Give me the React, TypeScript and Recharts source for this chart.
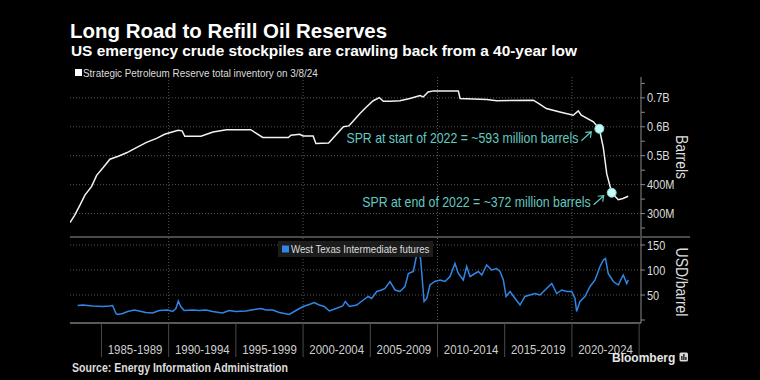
import React from "react"
import { LineChart, Line, XAxis, YAxis, ReferenceLine, ReferenceDot } from "recharts"

// SPR inventory, millions of barrels
const sprYears = [
  1982.66, 1983.0, 1983.4, 1983.77, 1984.27, 1984.64, 1985.13, 1985.63, 1986.25, 1986.87,
  1987.6, 1988.35, 1989.1, 1989.7, 1990.2, 1990.7, 1991.0, 1991.2, 1992.4, 1993.3,
  1994.3, 1996.1, 1997.0, 1998.9, 1999.1, 1999.75, 2000.0, 2000.75, 2000.95, 2001.9,
  2003.0, 2003.4, 2003.6, 2004.23, 2004.73, 2005.22, 2005.67, 2005.97, 2006.47, 2007.2,
  2007.95, 2008.7, 2008.94, 2009.3, 2009.7, 2011.55, 2011.68, 2013.66, 2014.4, 2017.13,
  2017.6, 2018.1, 2019.1, 2020.1, 2020.47, 2020.7, 2021.6, 2022.04, 2022.33, 2022.59,
  2022.96, 2023.45, 2023.8, 2024.19,
]
const sprBarrels = [
  269, 294, 329, 364, 394, 432, 459, 488, 498, 510,
  528, 546, 560, 574, 581, 588, 586, 567, 567, 582,
  590, 590, 563, 563, 571, 574, 568, 568, 542, 544,
  600, 603, 613, 646, 669, 690, 701, 688, 688, 690,
  698, 708, 703, 720, 724, 724, 698, 694, 690, 692,
  678, 663, 651, 640, 655, 640, 617, 593, 530, 438,
  372, 348, 352, 360,
]

// WTI futures, USD per barrel
const wtiYears = [
  1983.23, 1983.6, 1984.35, 1985.1, 1985.6, 1985.83, 1986.08, 1986.2, 1986.58, 1986.95,
  1987.44, 1987.8, 1988.3, 1988.8, 1989.3, 1989.93, 1990.3, 1990.54, 1990.72, 1990.9,
  1991.15, 1991.8, 1992.28, 1992.78, 1993.27, 1994.0, 1994.5, 1995.0, 1995.75, 1996.37,
  1996.87, 1997.24, 1997.74, 1998.23, 1998.97, 1999.47, 2000.0, 2000.46, 2000.83, 2001.2,
  2001.58, 2001.95, 2002.45, 2002.95, 2003.14, 2003.44, 2003.99, 2004.48, 2004.85, 2005.1,
  2005.48, 2005.85, 2006.09, 2006.47, 2006.84, 2007.2, 2007.58, 2007.83, 2008.2, 2008.45,
  2008.57, 2008.75, 2009.0, 2009.2, 2009.44, 2009.8, 2010.19, 2010.56, 2010.93, 2011.3,
  2011.55, 2011.92, 2012.17, 2012.42, 2012.79, 2013.04, 2013.29, 2013.66, 2014.03, 2014.4,
  2014.65, 2014.9, 2015.1, 2015.4, 2015.77, 2016.14, 2016.5, 2016.88, 2017.25, 2017.63,
  2018.0, 2018.5, 2018.87, 2019.24, 2019.61, 2019.99, 2020.23, 2020.35, 2020.6, 2020.97,
  2021.35, 2021.72, 2022.09, 2022.34, 2022.5, 2022.7, 2023.08, 2023.45, 2023.82, 2024.08,
  2024.19,
]
const wtiPrices = [
  29, 30, 28, 27, 28, 29, 13, 11, 13, 17,
  20, 18, 15, 14, 19, 20, 17, 23, 38, 27,
  19, 20, 19, 20, 17, 14, 19, 17, 18, 21,
  23, 20, 20, 15, 11, 19, 27, 31, 35, 30,
  27, 18, 23, 28, 37, 27, 30, 40, 47, 43,
  57, 60, 63, 77, 60, 57, 67, 93, 97, 130,
  143, 120, 37, 43, 70, 77, 80, 77, 87, 113,
  93, 80, 107, 87, 93, 97, 90, 110, 100, 103,
  97, 80, 47, 57, 43, 30, 47, 50, 53, 50,
  60, 73, 53, 60, 57, 57, 43, 17, 37, 47,
  67, 80, 107, 120, 123, 93, 77, 70, 90, 73,
  80,
]

const decadeLines = [1990, 2000, 2010, 2020]
const periodTicks = [1985, 1990, 1995, 2000, 2005, 2010, 2015, 2020, 2025]
const periodLabels = [
  "1985-1989", "1990-1994", "1995-1999", "2000-2004",
  "2005-2009", "2010-2014", "2015-2019", "2020-2024",
]
const sprTicks = [250, 300, 350, 400, 450, 500, 550, 600, 650, 700, 750]
const sprGrid = [300, 400, 500, 600, 700]
const wtiTicks = [0, 50, 100, 150]
const wtiGrid = [50, 100, 150]

const sprData = sprYears.map((year, i) => ({ year, spr: sprBarrels[i] }))
const wtiData = wtiYears.map((year, i) => ({ year, wti: wtiPrices[i] }))

const X_DOMAIN: [number, number] = [1982.66, 2025.14]
const PLOT_LEFT = 70
const PLOT_RIGHT = 641
const HALF_PERIOD = (2.5 * (PLOT_RIGHT - PLOT_LEFT)) / (X_DOMAIN[1] - X_DOMAIN[0])

const SANS = "'Liberation Sans', Arial, sans-serif"
const NARROW_SCALE = 0.88
const TEAL = "#62c9c1"
const GRID = "#555555"

// condensed text: no narrow face is installed, so squeeze Liberation Sans horizontally
function NText(props: any) {
  const { x, y, size, anchor = "start", fill = "#dddddd", weight, rotate = 0, dy, scale = NARROW_SCALE, children } = props
  return (
    <text
      transform={`translate(${x},${y}) rotate(${rotate}) scale(${scale},1)`}
      x={0}
      y={0}
      dy={dy}
      fontSize={size}
      fontFamily={SANS}
      fontWeight={weight}
      fill={fill}
      textAnchor={anchor}
    >
      {children}
    </text>
  )
}

function SprTick(props: any) {
  const { x, y, payload } = props
  const v = payload.value
  if (v % 100 !== 0) return null
  const label = v >= 500 ? `${(v / 1000).toFixed(1)}B` : `${v}M`
  return <NText x={x} y={y + 4.5} size={12.5}>{label}</NText>
}

function WtiTick(props: any) {
  const { x, y, payload } = props
  if (payload.value === 0) return null
  return <NText x={x} y={y + 4.5} size={12.5}>{payload.value}</NText>
}

function PeriodTick(props: any) {
  const { x, y, payload } = props
  const label = periodLabels[periodTicks.indexOf(payload.value)]
  if (!label) return null
  return (
    <NText x={x + HALF_PERIOD} y={y - 5} size={13} anchor="middle" fill="#cfcfcf">
      {label}
    </NText>
  )
}

function annotated(text: string) {
  return (props: any) => {
    const { cx, cy } = props
    const tx = cx - 8
    const ty = cy + 3
    return (
      <g>
        <NText x={cx - 21} y={cy + 14} size={14} anchor="end" fill={TEAL}>
          {text}
        </NText>
        <path
          d={`M${cx - 18},${cy + 12} L${tx},${ty} M${tx - 6},${ty + 0.5} L${tx},${ty} L${tx - 1},${ty + 6}`}
          stroke={TEAL}
          strokeWidth={1.2}
          fill="none"
        />
        <circle cx={cx} cy={cy} r={4.5} fill="#c8faf5" stroke="#7fd8d0" strokeWidth={1} />
      </g>
    )
  }
}

export default function App() {
  return (
    <div style={{ position: "fixed", left: 0, top: 0, width: 760, height: 380, background: "#000", overflow: "hidden" }}>
      <div style={{ position: "absolute", left: 0, top: 0 }}>
        <LineChart width={760} height={240} data={sprData} margin={{ top: 77, right: 69, bottom: 3, left: 70 }}>
          <XAxis type="number" dataKey="year" domain={X_DOMAIN} hide allowDataOverflow />
          <YAxis
            orientation="right"
            width={50}
            domain={[219, 772]}
            ticks={sprTicks}
            interval={0}
            allowDataOverflow
            tickSize={4}
            tickMargin={2}
            stroke="#8a8a8a"
            tick={<SprTick />}
          />
          {sprGrid.map((v) => (
            <ReferenceLine key={v} y={v} stroke={GRID} strokeDasharray="1 2" />
          ))}
          {decadeLines.map((v) => (
            <ReferenceLine key={v} x={v} stroke={GRID} strokeDasharray="1 2" />
          ))}
          <Line type="linear" dataKey="spr" stroke="#f2f2f2" strokeWidth={1.5} dot={false} isAnimationActive={false} />
          <ReferenceDot x={2022.04} y={593} r={4.5} shape={annotated("SPR at start of 2022 = ~593 million barrels")} />
          <ReferenceDot x={2022.96} y={372} r={4.5} shape={annotated("SPR at end of 2022 = ~372 million barrels")} />
        </LineChart>
      </div>

      <div style={{ position: "absolute", left: 0, top: 230 }}>
        <LineChart width={760} height={150} data={wtiData} margin={{ top: 7, right: 69, bottom: 23, left: 70 }}>
          <XAxis
            type="number"
            dataKey="year"
            domain={X_DOMAIN}
            allowDataOverflow
            ticks={periodTicks}
            interval={0}
            height={34}
            tickSize={34}
            tickMargin={2}
            tickLine={{ stroke: "#4a4a4a" }}
            axisLine={{ stroke: "#5a5a5a", strokeWidth: 2 }}
            tick={<PeriodTick />}
          />
          <YAxis
            orientation="right"
            width={50}
            domain={[-6, 166]}
            ticks={wtiTicks}
            interval={0}
            allowDataOverflow
            tickSize={4}
            tickMargin={2}
            stroke="#8a8a8a"
            tick={<WtiTick />}
          />
          {wtiGrid.map((v) => (
            <ReferenceLine key={v} y={v} stroke={GRID} strokeDasharray="1 2" />
          ))}
          {decadeLines.map((v) => (
            <ReferenceLine key={v} x={v} stroke={GRID} strokeDasharray="1 2" />
          ))}
          <Line type="linear" dataKey="wti" stroke="#2f86e8" strokeWidth={1.5} dot={false} isAnimationActive={false} />
        </LineChart>
      </div>

      {/* panel separator */}
      <div style={{ position: "absolute", left: 70, top: 236, width: 620, height: 2, background: "#4a4a4a" }} />

      {/* WTI legend box */}
      <div style={{ position: "absolute", left: 278, top: 241, width: 155, height: 16, background: "#1c1c1c" }} />

      <svg width={760} height={380} style={{ position: "absolute", left: 0, top: 0, pointerEvents: "none" }}>
        <text x={70} y={37.5} fill="#ffffff" fontSize={20.5} fontWeight="bold" fontFamily={SANS} textLength={317} lengthAdjust="spacingAndGlyphs">
          Long Road to Refill Oil Reserves
        </text>
        <text x={71} y={55.5} fill="#ffffff" fontSize={15} fontWeight="bold" fontFamily={SANS} textLength={506} lengthAdjust="spacingAndGlyphs">
          US emergency crude stockpiles are crawling back from a 40-year low
        </text>

        <rect x={75} y={69} width={7} height={7} fill="#ffffff" />
        <NText x={83} y={76.5} size={11} scale={0.9}>
          Strategic Petroleum Reserve total inventory on 3/8/24
        </NText>

        <rect x={282} y={245.5} width={7} height={7} fill="#2f86e8" />
        <NText x={291} y={253} size={11}>
          West Texas Intermediate futures
        </NText>

        <NText x={682} y={157} rotate={90} size={16} anchor="middle" dy="0.35em" scale={0.87}>
          Barrels
        </NText>
        <NText x={682} y={282} rotate={90} size={16} anchor="middle" dy="0.35em" scale={0.87}>
          USD/barrel
        </NText>

        <NText x={72} y={371.5} size={12.5} weight="bold" scale={0.845}>
          Source: Energy Information Administration
        </NText>

        <text x={612} y={361.5} fill="#e6e6e6" fontSize={12} fontWeight="bold" fontFamily={SANS}>
          Bloomberg
        </text>
        <rect x={679.5} y={352.5} width={8.5} height={9} rx={1.5} fill="#d8d8d8" />
        <rect x={681.3} y={356} width={1.2} height={4} fill="#000" />
        <rect x={683.3} y={354} width={1.2} height={6} fill="#000" />
        <rect x={685.3} y={357} width={1.2} height={3} fill="#000" />
      </svg>
    </div>
  )
}
